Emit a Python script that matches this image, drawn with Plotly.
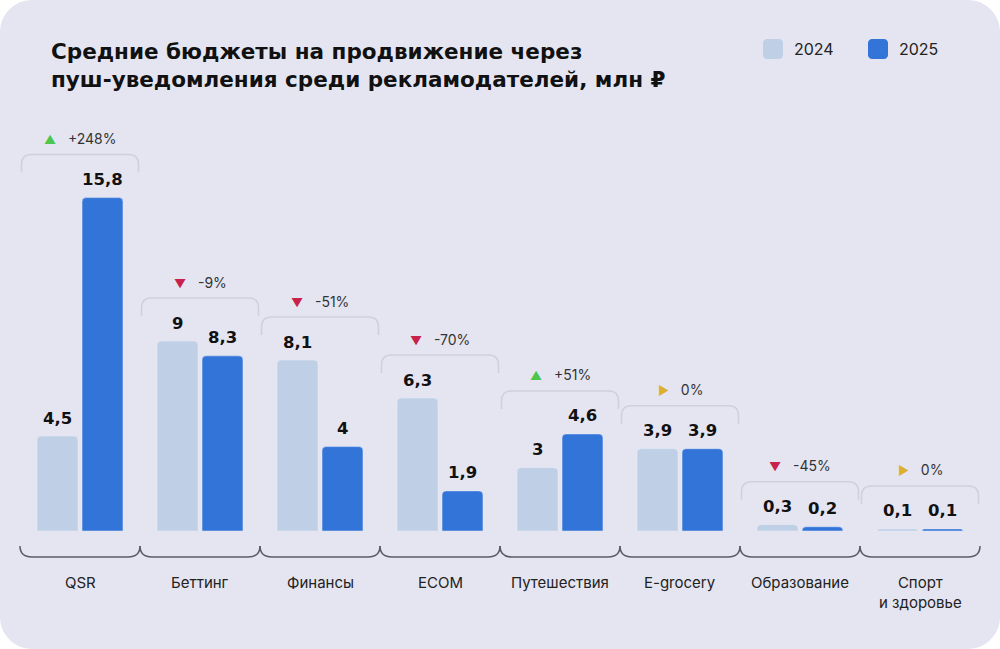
import plotly.graph_objects as go

categories = ["QSR", "Беттинг", "Финансы", "ECOM", "Путешествия", "E-grocery", "Образование", "Спорт<br>и здоровье"]
values_2024 = [4.5, 9.0, 8.1, 6.3, 3.0, 3.9, 0.3, 0.1]
values_2025 = [15.8, 8.3, 4.0, 1.9, 4.6, 3.9, 0.2, 0.1]
changes = ["+248%", "-9%", "-51%", "-70%", "+51%", "0%", "-45%", "0%"]
years = ["2024", "2025"]

C24 = "#bfcfe6"
C25 = "#3374d9"
CARD = "#e5e5f1"
UP, DOWN, FLAT = "#4cc64c", "#c8214b", "#dcb02e"

# layout geometry (px)
FW, FH = 1000, 649
ML, MR, MT, MB = 20, 20, 100, 118
PW, PH = FW - ML - MR, FH - MT - MB
PPU = 21.1                      # px per million
YMAX = PH / PPU
CAT_PX = PW / len(categories)


def px2x(px):
    return (px - ML) / PW


def py2y(py):
    return (FH - MB - py) / PH


def rrect(x0, y0, x1, y1, r):
    # rounded rect in pixel coords -> paper path
    k = 0.45 * r
    pts = [
        ("M", [(x0 + r, y0)]), ("L", [(x1 - r, y0)]),
        ("C", [(x1 - k, y0), (x1, y0 + k), (x1, y0 + r)]), ("L", [(x1, y1 - r)]),
        ("C", [(x1, y1 - k), (x1 - k, y1), (x1 - r, y1)]), ("L", [(x0 + r, y1)]),
        ("C", [(x0 + k, y1), (x0, y1 - k), (x0, y1 - r)]), ("L", [(x0, y0 + r)]),
        ("C", [(x0, y0 + k), (x0 + k, y0), (x0 + r, y0)]),
    ]
    s = ""
    for cmd, ps in pts:
        s += cmd + " " + " ".join(f"{px2x(a):.5f},{py2y(b):.5f}" for a, b in ps) + " "
    return s + "Z"


fig = go.Figure()
x = list(range(len(categories)))
fig.add_trace(go.Bar(x=x, y=values_2024, name=years[0], marker_color=C24, hoverinfo="skip"))
fig.add_trace(go.Bar(x=x, y=values_2025, name=years[1], marker_color=C25, hoverinfo="skip"))

shapes = []
annotations = []

# card background
shapes.append(dict(type="path", xref="paper", yref="paper", path=rrect(0, 0, FW, FH, 32),
                   fillcolor=CARD, line=dict(width=0), layer="below"))

# title
annotations.append(dict(xref="paper", yref="paper", x=px2x(49), y=py2y(37), xanchor="left", yanchor="top",
                        align="left", showarrow=False,
                        text="Средние бюджеты на продвижение через<br>пуш-уведомления среди рекламодателей, млн ₽",
                        font=dict(family="DejaVu Sans", size=21.5, color="#111111", weight="bold")))

# legend
for (lx, col, lab) in [(763, C24, years[0]), (868, C25, years[1])]:
    shapes.append(dict(type="path", xref="paper", yref="paper", path=rrect(lx, 39, lx + 20, 59, 4),
                       fillcolor=col, line=dict(width=0)))
    annotations.append(dict(xref="paper", yref="paper", x=px2x(lx + 29), y=py2y(49), xanchor="left",
                            yanchor="middle", showarrow=False, text=lab,
                            font=dict(family="Inter", size=16, color="#222222")))

off = 0.1875
dx = 1 / CAT_PX
dy = 1 / PPU
for i, cat in enumerate(categories):
    a, b = values_2024[i], values_2025[i]
    for xv, v in [(i - off, a), (i + off, b)]:
        annotations.append(dict(x=xv, y=v, yanchor="middle", yshift=18, showarrow=False,
                                text=f"{v:g}".replace(".", ","),
                                font=dict(family="DejaVu Sans", size=16.5, color="#111111", weight="bold")))
    # top bracket
    top = max(a, b) + 43 * dy
    xl, xr = i - 0.5 + 1.5 * dx, i + 0.5 - 1.5 * dx
    r = 10
    shapes.append(dict(type="path", xref="x", yref="y", line=dict(color="#cfcfe0", width=1.5),
                       path=(f"M {xl},{top - 18 * dy} L {xl},{top - r * dy} "
                             f"Q {xl},{top} {xl + r * dx},{top} L {xr - r * dx},{top} "
                             f"Q {xr},{top} {xr},{top - r * dy} L {xr},{top - 18 * dy}")))
    ch = changes[i]
    if ch.startswith("+"):
        tri, col = "▲", UP
    elif ch.startswith("-"):
        tri, col = "▼", DOWN
    else:
        tri, col = "▶", FLAT
    annotations.append(dict(x=i, y=top, yanchor="middle", yshift=16, showarrow=False,
                            text=f"<span style='color:{col};font-size:12px'>{tri}</span>\u00a0\u00a0\u00a0{ch}",
                            font=dict(family="Inter", size=14, color="#333333")))
    # bottom brace
    pl = ML + CAT_PX * i
    pr = pl + CAT_PX
    path = (f"M {px2x(pl):.5f},{py2y(546):.5f} "
            f"C {px2x(pl):.5f},{py2y(553):.5f} {px2x(pl + 4):.5f},{py2y(557):.5f} {px2x(pl + 12):.5f},{py2y(557):.5f} "
            f"L {px2x(pr - 12):.5f},{py2y(557):.5f} "
            f"C {px2x(pr - 4):.5f},{py2y(557):.5f} {px2x(pr):.5f},{py2y(553):.5f} {px2x(pr):.5f},{py2y(546):.5f}")
    shapes.append(dict(type="path", xref="paper", yref="paper", path=path,
                       line=dict(color="#5c5c68", width=1.5)))
    # category label
    annotations.append(dict(x=i, xref="x", yref="paper", y=py2y(571), yanchor="top", showarrow=False,
                            text=cat, align="center",
                            font=dict(family="Inter", size=15, color="#222222")))

fig.update_layout(
    width=FW, height=FH,
    margin=dict(l=ML, r=MR, t=MT, b=MB),
    paper_bgcolor="white",
    plot_bgcolor="rgba(0,0,0,0)",
    barmode="group", bargap=0.25, bargroupgap=0.09, barcornerradius=4,
    showlegend=False,
    xaxis=dict(range=[-0.5, len(categories) - 0.5], showgrid=False, zeroline=False,
               showticklabels=False, ticks="", fixedrange=True),
    yaxis=dict(range=[0, YMAX], showgrid=False, zeroline=False, showticklabels=False,
               ticks="", fixedrange=True),
    shapes=shapes,
    annotations=annotations,
)

# the page body has a default 8px margin; drop it so the card fills the window
fig.write_html("out.html", config={"displayModeBar": False},
               post_script="document.body.style.margin='0';")
